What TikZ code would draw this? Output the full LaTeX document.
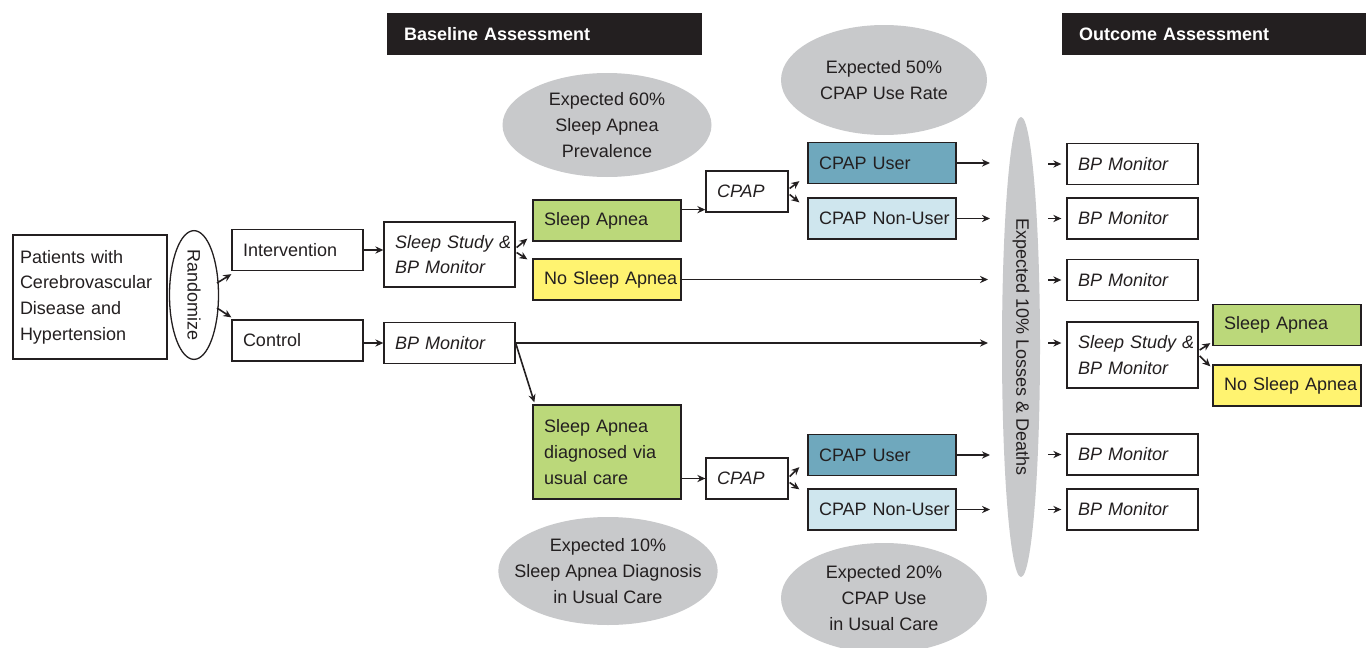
\documentclass[tikz,border=0pt]{standalone}
\usepackage{fontspec}
\setmainfont{Liberation Sans}
\usetikzlibrary{shapes.geometric,arrows.meta,calc}
\definecolor{ink}{HTML}{231F20}
\definecolor{ellgray}{RGB}{200,201,203}
\definecolor{sagreen}{RGB}{187,216,122}
\definecolor{nsyellow}{RGB}{255,243,112}
\definecolor{cuteal}{RGB}{111,168,189}
\definecolor{cnblue}{RGB}{207,230,238}
\begin{document}
\begin{tikzpicture}[x=0.5pt,y=-0.5pt,
  font=\fontsize{9}{12.8}\selectfont,
  box/.style={draw=ink, line width=0.65pt, align=left, inner xsep=5.5pt, inner ysep=0pt, text=ink, minimum height=20.5pt},
  wa/.style={text width=54.5pt},
  wb/.style={text width=63pt},
  wc/.style={text width=30pt},
  it/.style={font=\fontsize{9}{12.8}\selectfont\itshape},
  ell/.style={ellipse, fill=ellgray, inner sep=0pt, align=center, text=ink},
  hdr/.style={fill=ink, text=white, font=\fontsize{9}{11}\selectfont\bfseries, align=left, inner xsep=8.5pt, inner ysep=0pt, minimum height=21pt},
  arr/.style={draw=ink, line width=0.8pt, -{Stealth[length=4pt,width=3.6pt]}}
]
\fill[white] (0,0) rectangle (1366,648);
\useasboundingbox (0,0) rectangle (1366,648);

% headers
\node[hdr, text width=140.5pt] (hb) at (544.5,34) {Baseline Assessment};
\node[hdr, text width=135pt] (ho) at (1214,34) {Outcome Assessment};

% grey ellipses
\node[ell, minimum width=104.5pt, minimum height=52pt] (e60) at (607,125) {Expected 60\%\\Sleep Apnea\\Prevalence};
\node[ell, minimum width=103pt, minimum height=55pt] (e50) at (884,80) {Expected 50\%\\CPAP Use Rate};
\node[ell, inner sep=-8pt, minimum width=105pt, minimum height=54pt] (e10) at (608,571) {Expected 10\%\\Sleep Apnea Diagnosis\\in Usual Care};
\node[ell, minimum width=103pt, minimum height=55pt] (e20) at (884,598) {Expected 20\%\\CPAP Use\\in Usual Care};
\node[ell, rotate=-90, minimum width=230pt, minimum height=19pt] (loss) at (1021,347) {Expected 10\% Losses \& Deaths};

% left
\node[box, text width=70pt, inner xsep=3.5pt, minimum height=62pt] (pat) at (90,297) {\mbox{Patients with}\\\mbox{Cerebrovascular}\\\mbox{Disease and}\\\mbox{Hypertension}};
\node[draw=ink, line width=0.65pt, ellipse, rotate=-90, inner sep=0pt, minimum width=60pt, minimum height=24.5pt, text=ink] (rand) at (194,295) {Randomize};
\node[box, wa] (int) at (297.5,250) {\mbox{Intervention}};
\node[box, wa] (ctl) at (297.5,340.5) {\mbox{Control}};

% baseline
\node[box, wa, it, minimum height=32.5pt] (ss) at (449.5,254.5) {\mbox{Sleep Study \&}\\\mbox{BP Monitor}};
\node[box, wa, it] (bp1) at (449.5,343) {\mbox{BP Monitor}};
\node[box, wb, fill=sagreen] (sa) at (607,220.5) {\mbox{Sleep Apnea}};
\node[box, wb, fill=nsyellow] (nsa) at (607,279.5) {\mbox{No Sleep Apnea}};
\node[box, wb, fill=sagreen, minimum height=47pt] (diag) at (607,452) {\mbox{Sleep Apnea}\\\mbox{diagnosed via}\\\mbox{usual care}};
\node[box, wc, it] (cpap1) at (747,191.5) {\mbox{CPAP}};
\node[box, wc, it] (cpap2) at (747,478.5) {\mbox{CPAP}};
\node[box, wb, fill=cuteal] (cu1) at (882,163) {\mbox{CPAP User}};
\node[box, wb, fill=cnblue] (cn1) at (882,218.5) {\mbox{CPAP Non-User}};
\node[box, wb, fill=cuteal] (cu2) at (882,455) {\mbox{CPAP User}};
\node[box, wb, fill=cnblue] (cn2) at (882,509.5) {\mbox{CPAP Non-User}};

% outcome
\node[box, wa, it] (ob1) at (1132.5,164) {\mbox{BP Monitor}};
\node[box, wa, it] (ob2) at (1132.5,218.5) {\mbox{BP Monitor}};
\node[box, wa, it] (ob3) at (1132.5,280) {\mbox{BP Monitor}};
\node[box, wa, it, minimum height=33pt] (ob4) at (1132.5,355) {\mbox{Sleep Study \&}\\\mbox{BP Monitor}};
\node[box, wa, it] (ob5) at (1132.5,454.5) {\mbox{BP Monitor}};
\node[box, wa, it] (ob6) at (1132.5,509.5) {\mbox{BP Monitor}};
\node[box, wb, fill=sagreen] (rsa) at (1287,325) {\mbox{Sleep Apnea}};
\node[box, wb, fill=nsyellow] (rnsa) at (1287,385.5) {\mbox{No Sleep Apnea}};

% free ends
\coordinate (t1) at (990,163);
\coordinate (t2) at (990,218.5);
\coordinate (t3) at (988,279.5);
\coordinate (t4) at (988,343);
\coordinate (t5) at (990,455);
\coordinate (t6) at (990,509.5);
\coordinate (s1) at (1048,164);
\coordinate (s2) at (1048,218.5);
\coordinate (s3) at (1048,280);
\coordinate (s4) at (1048,343);
\coordinate (s5) at (1048,454.5);
\coordinate (s6) at (1048,509.5);

% connectors
\draw[arr] ($(rand.center)+(23,-12)$) -- ($(int.south west)+(0,3)$);
\draw[arr] ($(rand.center)+(23,13)$) -- ($(ctl.north west)+(0,-2)$);
\draw[arr] (int.east) -- (int.east -| ss.west);
\draw[arr] (bp1.west -| ctl.east) -- (bp1.west);
\draw[arr] ($(ss.east)+(1,-7)$) -- ($(sa.south west)+(-5,-3)$);
\draw[arr] ($(ss.east)+(1,-2)$) -- ($(nsa.north west)+(-5,1)$);
\coordinate (c1) at ($(cpap1.south west)+(0,-3)$);
\draw[arr] (sa.east |- c1) -- (c1);
\draw[arr] ($(cpap1.east)+(1,-3)$) -- ($(cu1.south west)+(-8,-3)$);
\draw[arr] ($(cpap1.east)+(1,3)$) -- ($(cn1.north west)+(-8,5)$);
\draw[arr] (cu1.east) -- (t1);
\draw[arr] (cn1.east) -- (t2);
\draw[arr] (nsa.east) -- (t3);
\draw[arr] (bp1.east) -- (t4);
\draw[arr] (bp1.east) -- ($(diag.north west)+(2,-2)$);
\draw[arr] (diag.east |- cpap2.west) -- (cpap2.west);
\draw[arr] ($(cpap2.east)+(1,-2)$) -- ($(cu2.south west)+(-8,-9)$);
\draw[arr] ($(cpap2.east)+(1,4)$) -- ($(cn2.north west)+(-8,1)$);
\draw[arr] (cu2.east) -- (t5);
\draw[arr] (cn2.east) -- (t6);
\draw[arr, shorten >=2.5pt] (s1) -- (ob1.west);
\draw[arr, shorten >=2.5pt] (s2) -- (ob2.west);
\draw[arr, shorten >=2.5pt] (s3) -- (ob3.west);
\draw[arr, shorten >=2.5pt] (s4) -- (ob4.west |- s4);
\draw[arr, shorten >=2.5pt] (s5) -- (ob5.west);
\draw[arr, shorten >=2.5pt] (s6) -- (ob6.west);
\draw[arr] ($(ob4.east)+(1,-5)$) -- ($(rsa.south west)+(-2,-3)$);
\draw[arr] ($(ob4.east)+(1,1)$) -- ($(rnsa.north west)+(-2,2)$);
\end{tikzpicture}
\end{document}
